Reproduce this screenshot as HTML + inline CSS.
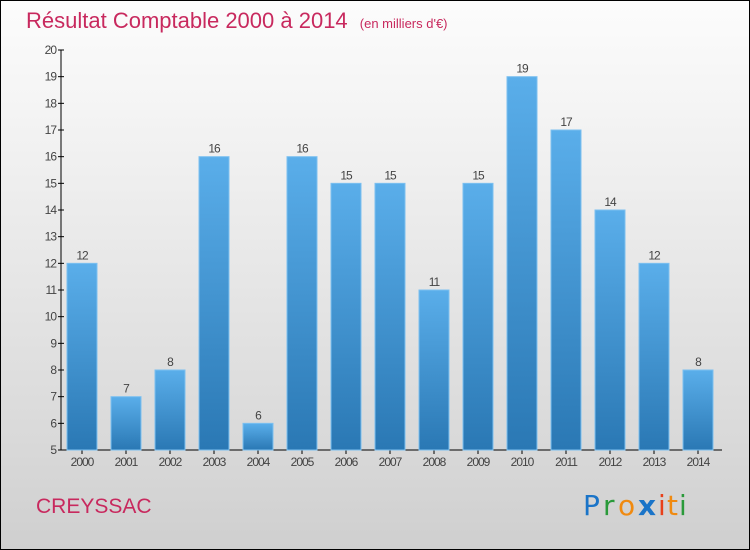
<!DOCTYPE html>
<html><head><meta charset="utf-8"><style>
html,body{margin:0;padding:0}
body{width:750px;height:550px;overflow:hidden;font-family:"Liberation Sans",sans-serif}
#wrap{position:absolute;left:0;top:0;width:748px;height:548px;border:1px solid #000;background:linear-gradient(#fcfcfc,#f4f4f4 20%,#d9d9d9 80%,#cfcfcf)}
</style></head><body>
<div id="wrap">
<svg width="750" height="550" style="position:absolute;left:-1px;top:-1px">
<defs><linearGradient id="bg" x1="0" y1="0" x2="0" y2="1"><stop offset="0" stop-color="#5aaeea"/><stop offset="1" stop-color="#2a78b4"/></linearGradient></defs>
<text x="26" y="28" font-size="22" fill="#c8295e">Résultat Comptable 2000 à 2014 <tspan font-size="13" dx="6">(en milliers d'€)</tspan></text>
<g id="axes"></g>
<g id="bars"></g>
<text x="36" y="513" font-size="21" fill="#c8295e">CREYSSAC</text>
<g font-size="28" font-family="'DejaVu Sans',sans-serif">
<text x="583" y="515" fill="#1a74c8">P</text><text x="603" y="515" fill="#2a9a3a">r</text><text x="618" y="515" fill="#f08a10">o</text><text x="638" y="515" fill="#1a74c8" font-weight="bold">x</text><text x="658" y="515" fill="#e8401a">i</text><text x="667" y="515" fill="#f08a10">t</text><text x="679" y="515" fill="#2a9a3a">i</text>
</g>
</svg>
</div>
<script>
const years=["2000","2001","2002","2003","2004","2005","2006","2007","2008","2009","2010","2011","2012","2013","2014"];
const values=[12,7,8,16,6,16,15,15,11,15,19,17,14,12,8];
const yTicks=[5,6,7,8,9,10,11,12,13,14,15,16,17,18,19,20];
const NS="http://www.w3.org/2000/svg";
const y0=450,y1=50,vmin=5,vmax=20;
function yS(v){return y0-(v-vmin)/(vmax-vmin)*(y0-y1);}
function xS(i){return 82+i*44;}
function mk(t,a,p){const e=document.createElementNS(NS,t);for(const k in a)e.setAttribute(k,a[k]);p.appendChild(e);return e;}
const ax=document.getElementById('axes'),bs=document.getElementById('bars');
const yl=mk('line',{x1:61,y1:y1,x2:61,y2:y0,stroke:'#000'},ax);


const xl=mk('line',{x1:61,y1:y0,x2:722,y2:y0,stroke:'#000'},ax);


yTicks.forEach(v=>{const y=yS(v);
mk('line',{x1:58,y1:y,x2:64,y2:y,stroke:'#000'},ax);
const t=mk('text',{x:56,y:y+4,'font-size':12,fill:'#444','text-anchor':'end','letter-spacing':'-1'},ax);t.textContent=v;

});
years.forEach((yr,i)=>{const x=xS(i),v=values[i],top=yS(v);
const r=mk('rect',{x:x-15,y:top,width:30,height:y0-top,fill:'url(#bg)',stroke:'#7cc0f0','stroke-width':1},bs);


const l=mk('text',{x:x,y:top-4,'font-size':12,fill:'#444','text-anchor':'middle','letter-spacing':'-1'},bs);l.textContent=v;


mk('line',{x1:x,y1:y0,x2:x,y2:y0+4,stroke:'#000'},ax);
const xt=mk('text',{x:x,y:466,'font-size':12,fill:'#444','text-anchor':'middle','letter-spacing':'-1'},ax);xt.textContent=yr;

});
</script>
</body></html>
